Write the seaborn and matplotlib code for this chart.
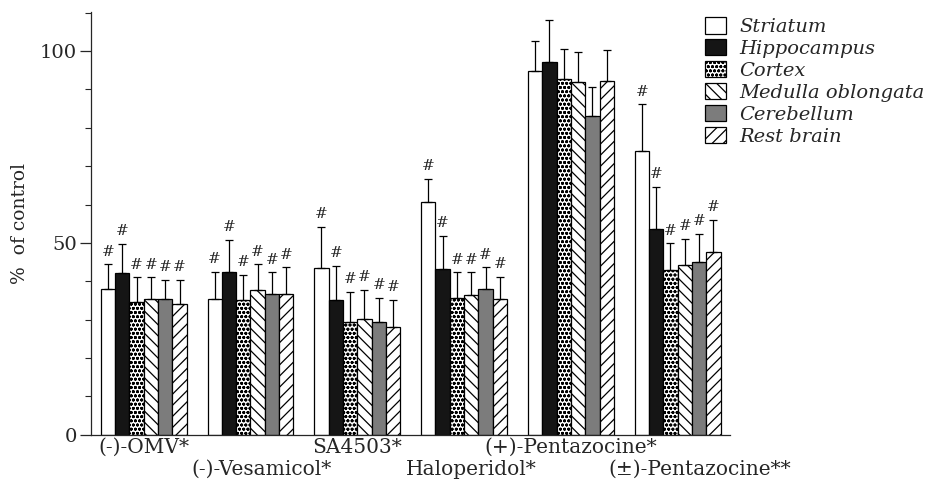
import numpy as np
import pandas as pd
import seaborn as sns
import matplotlib.pyplot as plt
from matplotlib.patches import Patch
from matplotlib.transforms import ScaledTranslation

# 데이터
drugs = ["(-)-OMV*", "(-)-Vesamicol*", "SA4503*", "Haloperidol*",
         "(+)-Pentazocine*", "(\u00b1)-Pentazocine**"]
regions = ["Striatum", "Hippocampus", "Cortex", "Medulla oblongata",
           "Cerebellum", "Rest brain"]

striatum = [38.1, 35.3, 43.4, 60.6, 94.9, 74.0]
hippocampus = [42.1, 42.5, 35.2, 43.1, 97.2, 53.6]
cortex = [34.7, 35.0, 29.5, 35.6, 92.6, 43.0]
medulla = [35.3, 37.8, 30.1, 36.5, 92.0, 44.3]
cerebellum = [35.3, 36.7, 29.5, 37.9, 83.1, 45.1]
rest_brain = [34.1, 36.7, 28.2, 35.4, 92.3, 47.7]

# 오차 막대 (위쪽 SD)
striatum_err = [6.3, 7.2, 10.8, 6.0, 7.7, 12.1]
hippocampus_err = [7.6, 8.3, 8.8, 8.8, 11.0, 10.9]
cortex_err = [6.3, 6.7, 7.8, 6.7, 8.0, 6.9]
medulla_err = [5.7, 6.6, 7.7, 5.8, 7.7, 6.7]
cerebellum_err = [5.1, 5.6, 6.1, 5.7, 7.6, 7.2]
rest_err = [6.3, 6.9, 7.0, 5.8, 8.0, 8.3]

# '#' 표시 여부 (그룹별)
significant = [True, True, True, True, False, True]

values = [striatum, hippocampus, cortex, medulla, cerebellum, rest_brain]
errors = [striatum_err, hippocampus_err, cortex_err, medulla_err,
          cerebellum_err, rest_err]

rows = []
for r, vals in zip(regions, values):
    for d, v in zip(drugs, vals):
        rows.append({"drug": d, "region": r, "value": v})
df = pd.DataFrame(rows)

sns.set_style("ticks")
plt.rcParams["font.family"] = ["DejaVu Serif"]
plt.rcParams["hatch.linewidth"] = 0.9

colors = ["white", "#151515", "white", "white", "#7c7c7c", "white"]
hatches = [None, None, "oooo", "\\\\\\", None, "///"]

fig = plt.figure(figsize=(9.27, 4.93), dpi=100)
ax = fig.add_axes([0.098, 0.118, 0.689, 0.858])

sns.barplot(data=df, x="drug", y="value", hue="region", hue_order=regions,
            palette=colors, edgecolor="black", linewidth=0.9,
            errorbar=None, width=0.805, saturation=1, ax=ax, legend=False)

bar_conts = list(ax.containers)
for i, cont in enumerate(bar_conts):
    xs, ys = [], []
    for p in cont.patches:
        if hatches[i]:
            p.set_hatch(hatches[i])
        xs.append(p.get_x() + p.get_width() / 2)
        ys.append(p.get_height())
    xs = np.array(xs)
    ys = np.array(ys)
    err = np.array(errors[i])
    ax.errorbar(xs, ys, yerr=[np.zeros_like(err), err], fmt="none",
                ecolor="black", elinewidth=0.9, capsize=3, capthick=0.9,
                zorder=1)
    for j in range(len(xs)):
        if significant[j]:
            ax.text(xs[j], ys[j] + err[j] + 1.5, "#", ha="center",
                    va="bottom", fontsize=11)

ax.set_ylim(0, 110.2)
ax.set_xlim(-0.495, 5.486)
ax.set_yticks([0, 50, 100])
ax.set_yticks(np.arange(0, 111, 10), minor=True)
ax.tick_params(axis="y", which="major", length=8, width=0.9, labelsize=14,
               direction="out", pad=2)
ax.tick_params(axis="y", which="minor", length=4, width=0.8)
ax.tick_params(axis="x", length=0, pad=2, labelsize=14.5)
ax.set_xticks(range(len(drugs)))
ax.set_xticklabels(drugs)
# 엇갈린 x 라벨: 홀수 번째는 아래 줄, 살짝 오른쪽으로
shift_px = [0, 11, 0, 7, 0, 22]
for k, tick in enumerate(ax.xaxis.get_major_ticks()):
    if k % 2 == 1:
        tick.set_pad(18)
    lab = tick.label1
    lab.set_transform(lab.get_transform() +
                      ScaledTranslation(shift_px[k] / 100, 0,
                                        fig.dpi_scale_trans))
ax.set_xlabel("")
ax.set_ylabel("%  of control", fontsize=13.5, labelpad=8)
for s in ["top", "right"]:
    ax.spines[s].set_visible(False)
for s in ["left", "bottom"]:
    ax.spines[s].set_linewidth(0.9)

handles = [Patch(facecolor=c, edgecolor="black", hatch=h, linewidth=0.9)
           for c, h in zip(colors, hatches)]
fig.legend(handles, regions, loc="upper left",
           bbox_to_anchor=(0.758, 0.97), frameon=False,
           prop={"style": "italic", "size": 14},
           handlelength=1.1, handleheight=0.95, labelspacing=0.15,
           handletextpad=0.7, borderpad=0.1, borderaxespad=0)

fig.savefig("out.png", dpi=100, facecolor="white")
